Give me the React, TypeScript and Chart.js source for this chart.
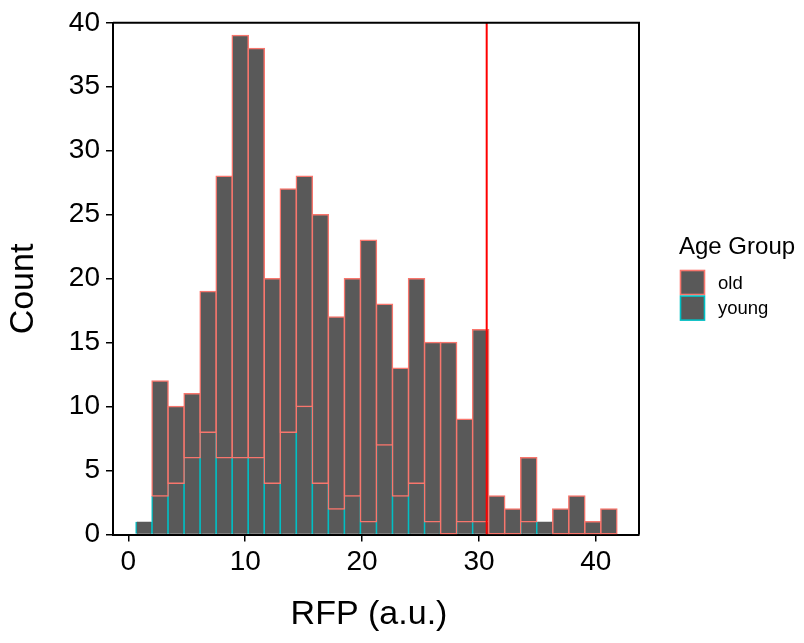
import React, { useEffect, useRef } from "react";
import { Chart, registerables } from "chart.js";

Chart.register(...registerables);

// Histogram bins (centres on the RFP axis, bin width ≈ 1.371)
const binCenters = [
  1.346, 2.717, 4.088, 5.46, 6.831, 8.202, 9.574, 10.945, 12.316, 13.687,
  15.059, 16.43, 17.801, 19.173, 20.544, 21.915, 23.286, 24.658, 26.029, 27.4,
  28.772, 30.143, 31.514, 32.886, 34.257, 35.628, 36.999, 38.371, 39.742, 41.113,
];
// counts per bin
const youngCounts = [1, 3, 4, 6, 8, 6, 6, 6, 4, 8, 10, 4, 2, 3, 1, 7, 3, 4, 1, 0, 1, 1, 0, 0, 1, 1, 0, 0, 0, 0];
const oldCounts = [0, 9, 6, 5, 11, 22, 33, 32, 16, 19, 18, 21, 15, 17, 22, 11, 10, 16, 14, 15, 8, 15, 3, 2, 5, 0, 2, 3, 1, 2];
const cutoff = 30.66;

const xTicks = [0, 10, 20, 30, 40];
const yTicks = [0, 5, 10, 15, 20, 25, 30, 35, 40];
const groups = ["old", "young"];
const groupColors = ["#F8766D", "#00BFC4"];
const legendTitle = "Age Group";
const xTitle = "RFP (a.u.)";
const yTitle = "Count";

const FONT = '"Liberation Sans", Arial, Helvetica, sans-serif';
const BAR_FILL = "#595959";

export default function App() {
  const ref = useRef<HTMLCanvasElement | null>(null);

  useEffect(() => {
    document.body.style.margin = "0";
    const canvas = ref.current;
    if (!canvas) return;

    const youngData = binCenters
      .map((x, i) => ({ x, y: youngCounts[i] }))
      .filter((d) => d.y > 0);
    const oldData = binCenters
      .map((x, i) => ({ x, y: [youngCounts[i], youngCounts[i] + oldCounts[i]] }))
      .filter((d, i) => oldCounts[i] > 0);

    const frame = {
      id: "frame",
      afterDatasetsDraw(chart: any) {
        const { ctx, chartArea } = chart;
        ctx.save();
        ctx.strokeStyle = "#000";
        ctx.lineWidth = 2;
        ctx.beginPath();
        ctx.moveTo(chartArea.left, chartArea.top);
        ctx.lineTo(chartArea.right, chartArea.top);
        ctx.lineTo(chartArea.right, chartArea.bottom);
        ctx.stroke();
        ctx.restore();
      },
    };

    const titlesAndLegend = {
      id: "ggTitlesLegend",
      afterDraw(chart: any) {
        const ctx = chart.ctx;
        ctx.save();
        ctx.fillStyle = "#000";
        // axis titles
        ctx.font = `34px ${FONT}`;
        ctx.textAlign = "center";
        ctx.textBaseline = "alphabetic";
        ctx.fillText(xTitle, 369, 624);
        ctx.save();
        ctx.translate(33, 289);
        ctx.rotate(-Math.PI / 2);
        ctx.fillText(yTitle, 0, 0);
        ctx.restore();
        // legend
        ctx.textAlign = "left";
        ctx.font = `24px ${FONT}`;
        ctx.fillText(legendTitle, 679, 254);
        const keyX = 680.5;
        const keyY0 = 270.5;
        const keyS = 24;
        groups.forEach((g, i) => {
          const y = keyY0 + i * 25.6;
          ctx.fillStyle = BAR_FILL;
          ctx.fillRect(keyX, y, keyS, keyS);
          ctx.strokeStyle = groupColors[i];
          ctx.lineWidth = 1.6;
          ctx.strokeRect(keyX, y, keyS, keyS);
          ctx.fillStyle = "#000";
          ctx.font = `18.5px ${FONT}`;
          ctx.textBaseline = "middle";
          ctx.fillText(g, 718, y + keyS / 2 + 1);
        });
        ctx.restore();
      },
    };

    const chart = new Chart(canvas, {
      type: "bar",
      data: {
        datasets: [
          {
            type: "line",
            label: "cutoff",
            data: [
              { x: cutoff, y: 0 },
              { x: cutoff, y: 40 },
            ],
            borderColor: "#FF0000",
            borderWidth: 2,
            pointRadius: 0,
            order: 0,
          } as any,
          {
            label: groups[0],
            data: oldData as any,
            backgroundColor: BAR_FILL,
            borderColor: groupColors[0],
            borderWidth: 1.5,
            borderSkipped: false,
            inflateAmount: 0.75,
            barPercentage: 1,
            categoryPercentage: 1,
            grouped: false,
            order: 1,
          } as any,
          {
            label: groups[1],
            data: youngData as any,
            backgroundColor: BAR_FILL,
            borderColor: groupColors[1],
            borderWidth: { left: 1.5, right: 1.5, top: 0, bottom: 0 },
            borderSkipped: false,
            inflateAmount: 0.75,
            barPercentage: 1,
            categoryPercentage: 1,
            grouped: false,
            order: 2,
          } as any,
        ],
      },
      options: {
        responsive: false,
        animation: false,
        layout: { padding: { left: 0, right: 165, top: 20.5, bottom: 0 } },
        plugins: {
          legend: { display: false },
          tooltip: { enabled: false },
        },
        scales: {
          x: {
            type: "linear",
            offset: false,
            min: -1.31,
            max: 43.69,
            afterBuildTicks: (s: any) => {
              s.ticks = xTicks.map((v) => ({ value: v }));
            },
            afterFit: (s: any) => {
              s.height = 643 - 534.5;
            },
            grid: {
              display: true,
              offset: false,
              drawOnChartArea: false,
              drawTicks: true,
              tickLength: 7,
              color: "#000",
              lineWidth: 1.5,
            },
            border: { display: true, color: "#000", width: 2 },
            ticks: {
              color: "#000",
              font: { family: FONT, size: 28 },
              padding: 4,
              maxRotation: 0,
              autoSkip: false,
            },
          },
          y: {
            type: "linear",
            min: 0,
            max: 40,
            afterBuildTicks: (s: any) => {
              s.ticks = yTicks.map((v) => ({ value: v }));
            },
            afterFit: (s: any) => {
              s.width = 113;
            },
            grid: {
              display: true,
              drawOnChartArea: false,
              drawTicks: true,
              tickLength: 7,
              color: "#000",
              lineWidth: 1.5,
            },
            border: { display: true, color: "#000", width: 2 },
            ticks: {
              color: "#000",
              font: { family: FONT, size: 28 },
              padding: 6,
              autoSkip: false,
            },
          },
        },
      },
      plugins: [frame, titlesAndLegend],
    });

    return () => chart.destroy();
  }, []);

  return (
    <div style={{ width: 804, height: 643, background: "#fff" }}>
      <canvas ref={ref} width={804} height={643} style={{ display: "block" }} />
    </div>
  );
}
